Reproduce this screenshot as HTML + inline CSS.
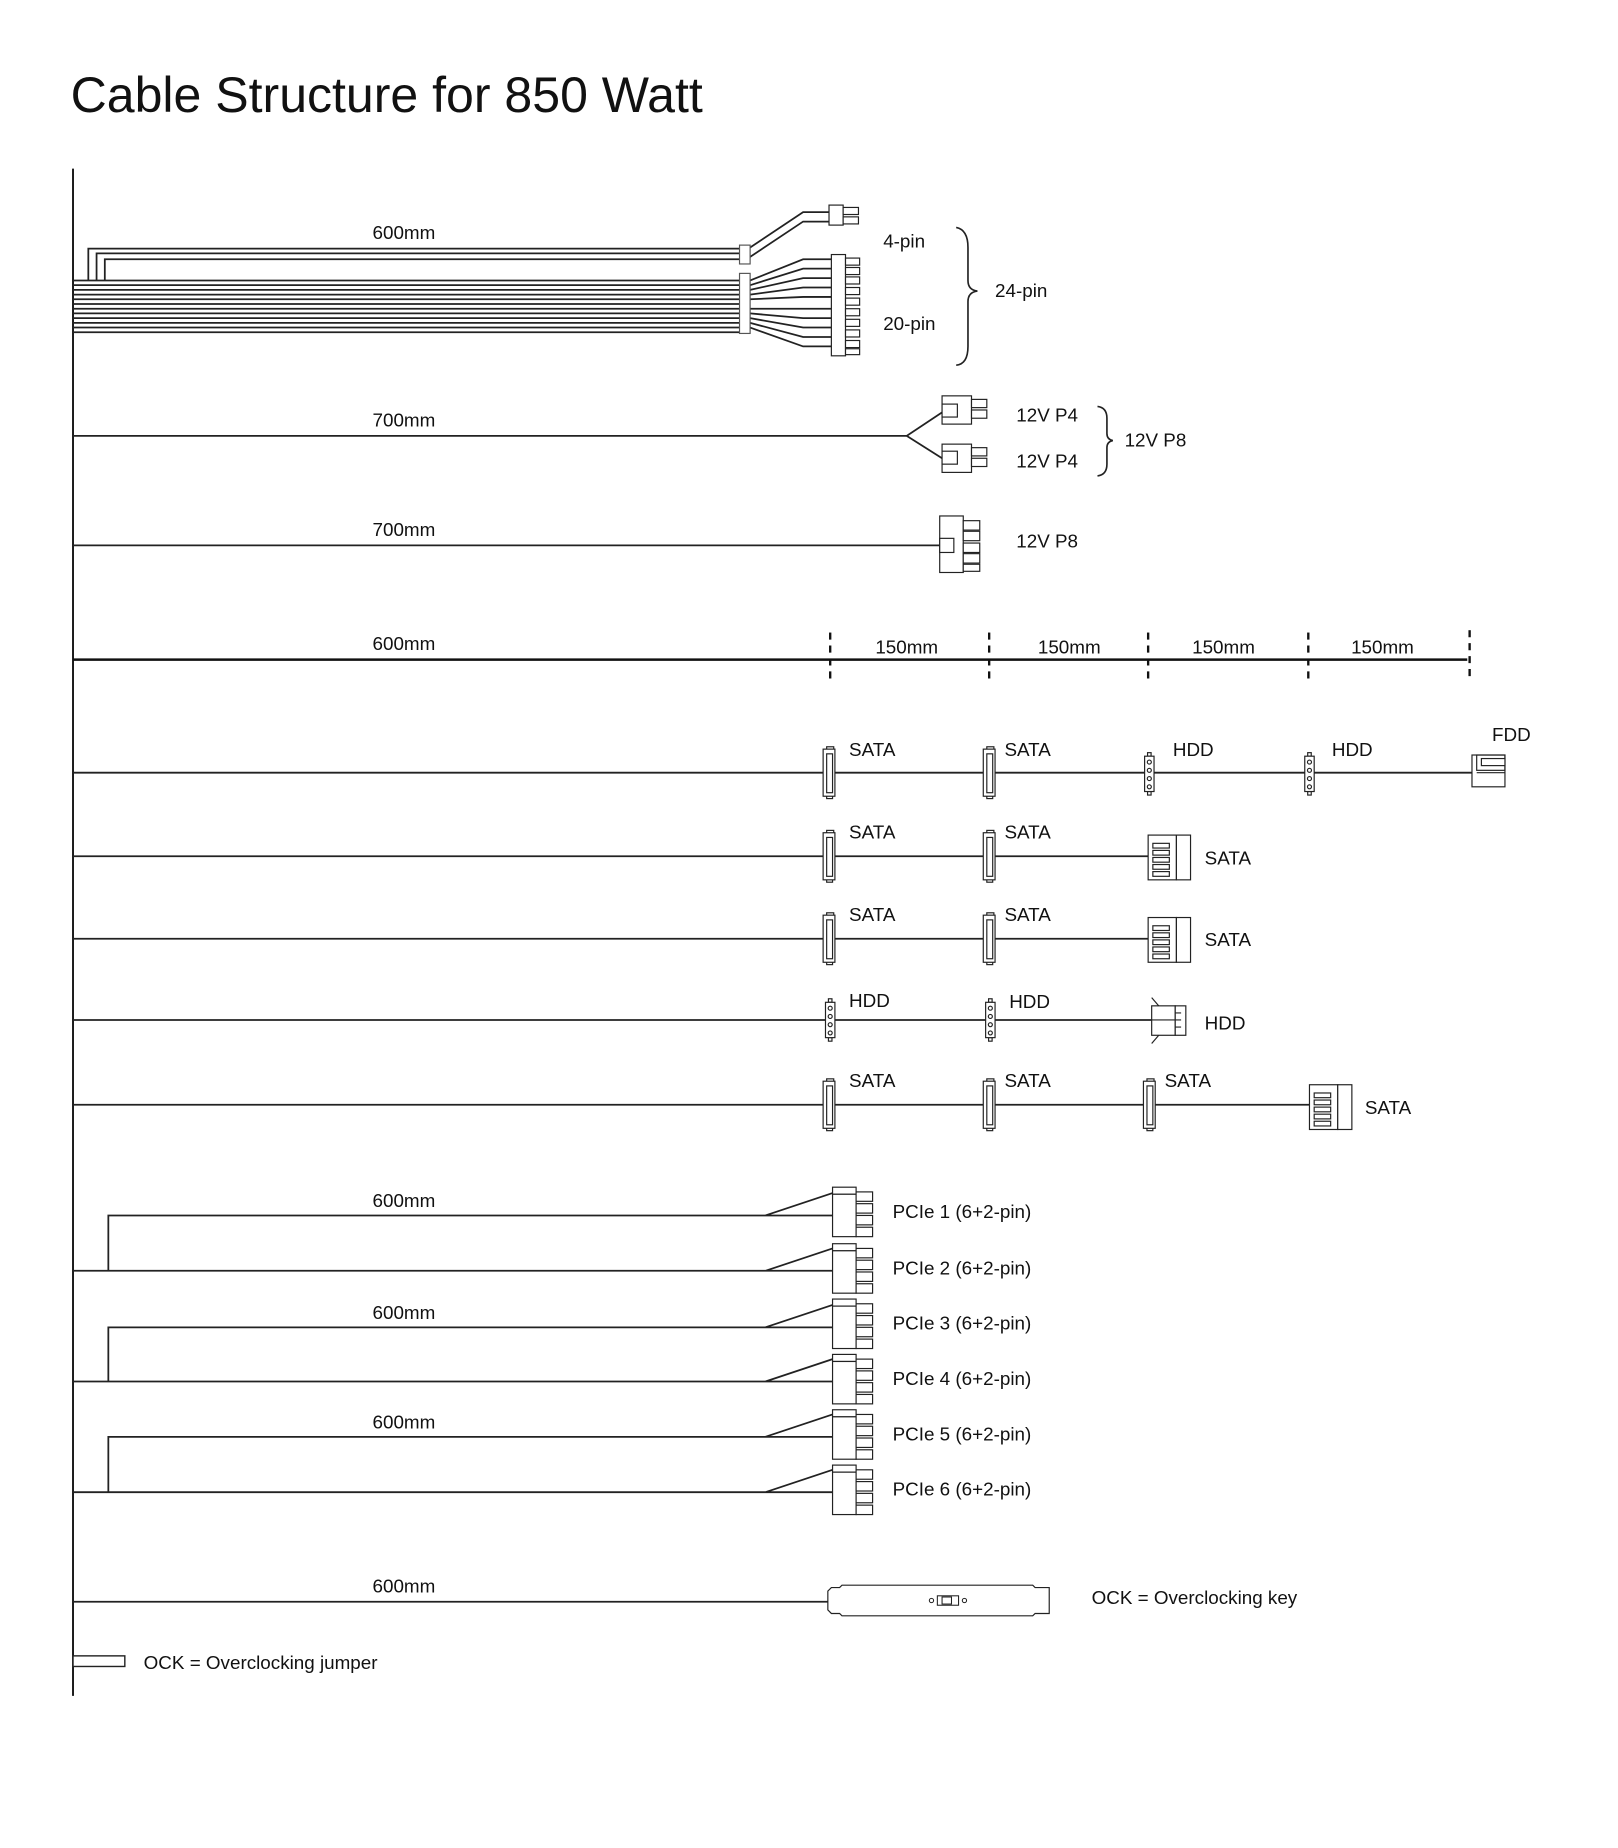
<!DOCTYPE html>
<html><head><meta charset="utf-8"><style>
html,body{margin:0;padding:0;background:#fff}
svg{display:block}
text{font-family:"Liberation Sans",sans-serif;fill:#111}
.l{font-size:16px}
</style></head><body>
<svg width="1618" height="1848" viewBox="0 0 1374 1569" xmlns="http://www.w3.org/2000/svg">
<defs>
<g id="sata" fill="#fff" stroke="#222" stroke-width="1">
<rect x="-2" y="-22" width="6" height="3"/><rect x="-2" y="19" width="5" height="3"/>
<rect x="-5" y="-20" width="10" height="40"/><rect x="-2" y="-16" width="5" height="33"/>
</g>
<g id="molex" fill="#fff" stroke="#222" stroke-width="1">
<rect x="-1.5" y="-18" width="3" height="3"/><rect x="-1.5" y="15" width="3" height="3"/>
<rect x="-4" y="-15" width="8" height="30"/>
<circle cx="0" cy="-10" r="1.7"/><circle cx="0" cy="-3" r="1.7"/><circle cx="0" cy="4" r="1.7"/><circle cx="0" cy="11" r="1.7"/>
</g>
<g id="satae" fill="#fff" stroke="#222" stroke-width="1">
<rect x="0" y="-19" width="24" height="38"/><rect x="24" y="-19" width="12" height="38"/>
<rect x="4" y="-12" width="14" height="4"/><rect x="4" y="-6" width="14" height="4"/><rect x="4" y="0" width="14" height="4"/><rect x="4" y="6" width="14" height="4"/><rect x="4" y="12" width="14" height="4"/>
</g>
<g id="pcie" fill="#fff" stroke="#222" stroke-width="1">
<rect x="0" y="0" width="20" height="6"/>
<rect x="0" y="6" width="20" height="36"/>
<rect x="20" y="4" width="14" height="8"/><rect x="20" y="14" width="14" height="8"/><rect x="20" y="24" width="14" height="8"/><rect x="20" y="34" width="14" height="8"/>
</g>
</defs>

<text x="60" y="95" style="font-size:42.5px">Cable Structure for 850 Watt</text>

<g stroke="#111" fill="none" stroke-width="1.6">
<line x1="62" y1="143" x2="62" y2="1440"/>
</g>

<!-- 24-pin -->
<g stroke="#222" fill="none" stroke-width="1.5">
<path d="M75 238 V211 H630 M82 238 V215 H630 M89 238 V220 H630"/>
<path d="M62 238H630 M62 242H630 M62 246H630 M62 250H630 M62 254H630 M62 258H630 M62 262H630 M62 266H630 M62 270H630 M62 274H630 M62 278H630 M62 282H630"/>
<path d="M637 210 L682 180 H704 M637 218 L682 188 H704"/>
<path d="M637 238 L682 220 H706 M637 242 L682 228 H706 M637 246 L682 236 H706 M637 250 L682 244 H706 M637 254 L682 252 H706 M637 262 L682 262 H706 M637 266 L682 270 H706 M637 270 L682 278 H706 M637 274 L682 286 H706 M637 278 L682 294 H706"/>
</g>
<g fill="#fff" stroke="#555" stroke-width="1">
<rect x="628" y="208" width="9" height="16"/>
<rect x="628" y="232" width="9" height="51"/>
</g>
<g fill="#fff" stroke="#222" stroke-width="1">
<rect x="704" y="174" width="12" height="17"/>
<rect x="716" y="176" width="13" height="6"/><rect x="716" y="184" width="13" height="6"/>
<rect x="706" y="216" width="12" height="86"/>
<rect x="718" y="219" width="12" height="6"/><rect x="718" y="227" width="12" height="6"/><rect x="718" y="235" width="12" height="6"/><rect x="718" y="244" width="12" height="6"/><rect x="718" y="253" width="12" height="6"/><rect x="718" y="262" width="12" height="6"/><rect x="718" y="271" width="12" height="6"/><rect x="718" y="280" width="12" height="6"/><rect x="718" y="289" width="12" height="6"/><rect x="718" y="296" width="12" height="5"/>
</g>
<path d="M812 193 Q822 195 822 210 V238 Q822 246 830 247 Q822 248 822 256 V294 Q822 309 812 310" stroke="#222" fill="none" stroke-width="1.4"/>
<text class="l" x="343" y="203" text-anchor="middle">600mm</text>
<text class="l" x="750" y="210">4-pin</text>
<text class="l" x="750" y="280">20-pin</text>
<text class="l" x="845" y="252">24-pin</text>

<!-- 12V P4 x2 -->
<g stroke="#222" fill="none" stroke-width="1.5">
<path d="M62 370 H770 L800 350 M770 370 L800 389"/>
</g>
<g fill="#fff" stroke="#222" stroke-width="1">
<rect x="800" y="336" width="25" height="24"/><rect x="800" y="343" width="13" height="11"/>
<rect x="825" y="339" width="13" height="7"/><rect x="825" y="348" width="13" height="7"/>
<rect x="800" y="377" width="25" height="24"/><rect x="800" y="383" width="13" height="11"/>
<rect x="825" y="380" width="13" height="7"/><rect x="825" y="389" width="13" height="7"/>
</g>
<path d="M932 345 Q940 346 940 355 V368 Q940 373 945 374 Q940 375 940 380 V394 Q940 403 932 404" stroke="#222" fill="none" stroke-width="1.4"/>
<text class="l" x="343" y="362" text-anchor="middle">700mm</text>
<text class="l" x="863" y="358">12V P4</text>
<text class="l" x="863" y="397">12V P4</text>
<text class="l" x="955" y="379">12V P8</text>

<!-- 12V P8 -->
<line x1="62" y1="463" x2="798" y2="463" stroke="#222" stroke-width="1.5"/>
<g fill="#fff" stroke="#222" stroke-width="1">
<rect x="798" y="438" width="20" height="48"/><rect x="798" y="457" width="12" height="12"/>
<rect x="818" y="442" width="14" height="8"/><rect x="818" y="451" width="14" height="8"/><rect x="818" y="461" width="14" height="8"/><rect x="818" y="470" width="14" height="8"/><rect x="818" y="479" width="14" height="6"/>
</g>
<text class="l" x="343" y="455" text-anchor="middle">700mm</text>
<text class="l" x="863" y="465">12V P8</text>

<!-- dimensions -->
<line x1="62" y1="560" x2="1246" y2="560" stroke="#111" stroke-width="2.2"/>
<g stroke="#111" stroke-width="2" stroke-dasharray="6,5">
<line x1="705" y1="537" x2="705" y2="581"/><line x1="840" y1="537" x2="840" y2="581"/>
<line x1="975" y1="537" x2="975" y2="581"/><line x1="1111" y1="537" x2="1111" y2="581"/>
<line x1="1248" y1="535" x2="1248" y2="579"/>
</g>
<text class="l" x="343" y="552" text-anchor="middle">600mm</text>
<text class="l" x="770" y="555" text-anchor="middle">150mm</text>
<text class="l" x="908" y="555" text-anchor="middle">150mm</text>
<text class="l" x="1039" y="555" text-anchor="middle">150mm</text>
<text class="l" x="1174" y="555" text-anchor="middle">150mm</text>

<!-- SATA rows -->
<g stroke="#222" stroke-width="1.5">
<line x1="62" y1="656" x2="1250" y2="656"/>
<line x1="62" y1="727" x2="975" y2="727"/>
<line x1="62" y1="797" x2="975" y2="797"/>
<line x1="62" y1="866" x2="978" y2="866"/>
<line x1="62" y1="938" x2="1112" y2="938"/>
</g>
<use href="#sata" x="704" y="656"/><use href="#sata" x="840" y="656"/>
<use href="#molex" x="976" y="657"/><use href="#molex" x="1112" y="657"/>
<g fill="#fff" stroke="#222" stroke-width="1">
<rect x="1250" y="641" width="28" height="27"/><rect x="1254" y="641" width="24" height="13" fill="none"/>
<rect x="1258" y="644" width="20" height="6"/><path d="M1254 656 H1278"/>
</g>
<use href="#sata" x="704" y="727"/><use href="#sata" x="840" y="727"/><use href="#satae" x="975" y="728"/>
<use href="#sata" x="704" y="797"/><use href="#sata" x="840" y="797"/><use href="#satae" x="975" y="798"/>
<use href="#molex" x="705" y="866"/><use href="#molex" x="841" y="866"/>
<g fill="#fff" stroke="#222" stroke-width="1">
<path d="M978 847 L984 854 M978 886 L984 879"/>
<rect x="978" y="854" width="20" height="25"/><rect x="998" y="854" width="9" height="25"/>
<path d="M978 866 H998 M998 860 H1003 M998 866 H1003 M998 872 H1003"/>
</g>
<use href="#sata" x="704" y="938"/><use href="#sata" x="840" y="938"/><use href="#sata" x="976" y="938"/>
<use href="#satae" x="1112" y="940"/>
<g class="l">
<text class="l" x="721" y="642">SATA</text><text class="l" x="853" y="642">SATA</text>
<text class="l" x="996" y="642">HDD</text><text class="l" x="1131" y="642">HDD</text><text class="l" x="1267" y="629">FDD</text>
<text class="l" x="721" y="712">SATA</text><text class="l" x="853" y="712">SATA</text><text class="l" x="1023" y="734">SATA</text>
<text class="l" x="721" y="782">SATA</text><text class="l" x="853" y="782">SATA</text><text class="l" x="1023" y="803">SATA</text>
<text class="l" x="721" y="855">HDD</text><text class="l" x="857" y="856">HDD</text><text class="l" x="1023" y="874">HDD</text>
<text class="l" x="721" y="923">SATA</text><text class="l" x="853" y="923">SATA</text><text class="l" x="989" y="923">SATA</text><text class="l" x="1159" y="946">SATA</text>
</g>

<!-- PCIe -->
<g stroke="#222" fill="none" stroke-width="1.5">
<path d="M62 1079 H707 M92 1079 V1032 H707 M650 1032 L707 1013 M650 1079 L707 1060"/>
<path d="M62 1173 H707 M92 1173 V1127 H707 M650 1127 L707 1108 M650 1173 L707 1154"/>
<path d="M62 1267 H707 M92 1267 V1220 H707 M650 1220 L707 1201 M650 1267 L707 1248"/>
</g>
<use href="#pcie" x="707" y="1008"/><use href="#pcie" x="707" y="1056"/>
<use href="#pcie" x="707" y="1103"/><use href="#pcie" x="707" y="1150"/>
<use href="#pcie" x="707" y="1197"/><use href="#pcie" x="707" y="1244"/>
<text class="l" x="343" y="1025" text-anchor="middle">600mm</text>
<text class="l" x="343" y="1120" text-anchor="middle">600mm</text>
<text class="l" x="343" y="1213" text-anchor="middle">600mm</text>
<text class="l" x="758" y="1034">PCIe 1 (6+2-pin)</text>
<text class="l" x="758" y="1082">PCIe 2 (6+2-pin)</text>
<text class="l" x="758" y="1129">PCIe 3 (6+2-pin)</text>
<text class="l" x="758" y="1176">PCIe 4 (6+2-pin)</text>
<text class="l" x="758" y="1223">PCIe 5 (6+2-pin)</text>
<text class="l" x="758" y="1270">PCIe 6 (6+2-pin)</text>

<!-- OCK -->
<line x1="62" y1="1360" x2="703" y2="1360" stroke="#222" stroke-width="1.5"/>
<path d="M706 1348 H713 L715 1346 H877 L879 1348 H891 V1370 H879 L877 1372 H715 L713 1370 H706 L703 1367 V1351 Z" fill="#fff" stroke="#222" stroke-width="1"/>
<g fill="#fff" stroke="#222" stroke-width="0.9">
<circle cx="791" cy="1359" r="1.8"/><circle cx="819" cy="1359" r="1.8"/>
<rect x="796" y="1355" width="18" height="8"/><rect x="800" y="1356" width="8" height="6"/>
</g>
<text class="l" x="343" y="1352" text-anchor="middle">600mm</text>
<text class="l" x="927" y="1362">OCK = Overclocking key</text>
<rect x="62" y="1406" width="44" height="9" fill="#fff" stroke="#222" stroke-width="1.2"/>
<text class="l" x="122" y="1417">OCK = Overclocking jumper</text>
</svg>
</body></html>
